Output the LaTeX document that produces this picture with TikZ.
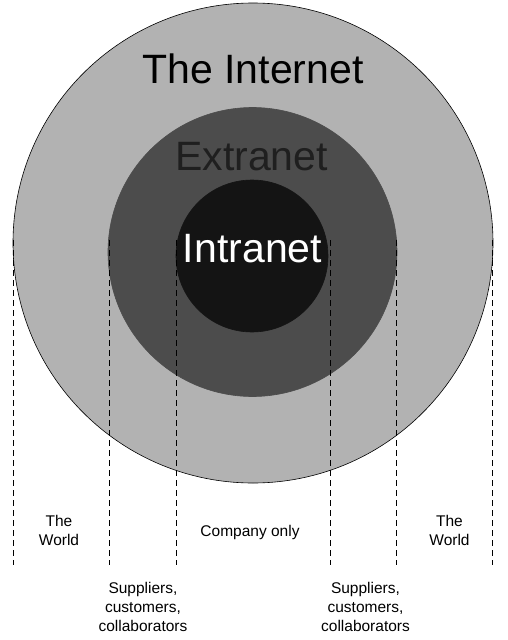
\documentclass[tikz,border=0pt]{standalone}
\usepackage{fontspec}
\setmainfont{Liberation Sans}
\begin{document}
\begin{tikzpicture}[x=1pt,y=-1pt,
  ring/.style={circle, inner sep=0pt, draw=black, line width=0.6pt},
  bigtext/.style={anchor=base, inner sep=0pt, font=\fontsize{41}{41}\selectfont},
  smalltext/.style={anchor=base, inner sep=0pt, align=center, font=\fontsize{15.5}{19}\selectfont},
  divider/.style={draw=black, line width=0.7pt, dash pattern=on 6pt off 4pt}]
\useasboundingbox (0,0) rectangle (508,640);
% circles
\node[ring, fill=black!30, minimum size=480pt] (internet) at (253,243) {};
\node[ring, draw=black!70, fill=black!70, minimum size=289pt] (extranet) at (252.5,252) {};
\node[ring, draw=black!92, fill=black!92, minimum size=152pt] (intranet) at (252,256) {};
% labels in circles
\node[bigtext, text=black] (tInternet) at (253,83) {The Internet};
\node[bigtext, text=black!88] (tExtranet) at (251.5,170) {Extranet};
\node[bigtext, text=white] (tIntranet) at (252.5,262) {Intranet};
% dividers
\foreach \n/\x in {a/13, b/109, c/176, d/330, e/396, f/492}{
  \coordinate (\n top) at (\x,240);
  \coordinate (\n bot) at (\x,565);
  \draw[divider] (\n top) -- (\n bot);
}
% bottom labels (base anchor = last line's baseline)
\node[smalltext] (worldL) at (59,545) {The\\World};
\node[smalltext] (company) at (250,536) {Company only};
\node[smalltext] (worldR) at (449.5,545) {The\\World};
\node[smalltext] (suppL) at (143,631) {Suppliers,\\customers,\\collaborators};
\node[smalltext] (suppR) at (365.5,631) {Suppliers,\\customers,\\collaborators};
\end{tikzpicture}
\end{document}
